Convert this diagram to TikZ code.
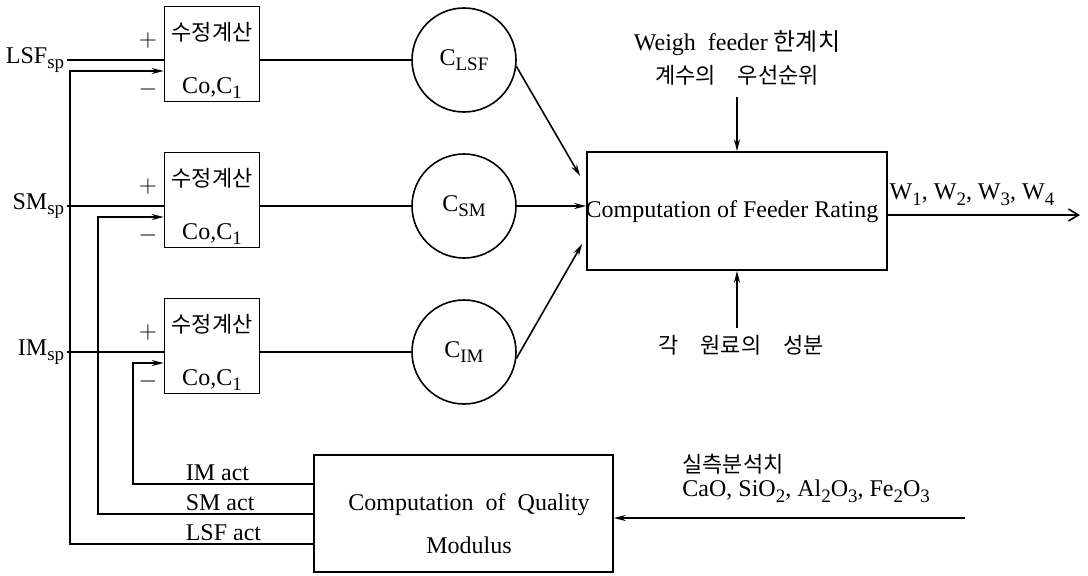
\documentclass[tikz,border=0pt]{standalone}
\usepackage{fontspec}
\setmainfont{Liberation Serif}
\newfontfamily\kr{Noto Sans CJK KR}
\usetikzlibrary{arrows.meta}
\newcommand{\lowsub}[1]{\raisebox{-.5ex}{\fontsize{9.5}{10}\selectfont #1}}

\begin{document}
\begin{tikzpicture}[x=.5pt,y=-.5pt,>={Stealth[length=6pt,width=3pt]},line width=.8pt,
  font=\fontsize{12}{14}\selectfont,
  corrbox/.style={draw,minimum width=47.5pt,minimum height=47.5pt,inner sep=0pt},
  ctrl/.style={draw,circle,minimum size=52pt,inner sep=0pt},
  kor/.style={font=\kr\fontsize{11}{13}\selectfont}]
  \useasboundingbox (0,0) rectangle (1088,575);

  % feeder rating and quality modulus blocks
  \node[draw,minimum width=150pt,minimum height=59pt] (fr) at (737,211) {};
  \node (frtxt) at (732,212) {Computation of Feeder Rating};
  \node[draw,minimum width=149.5pt,minimum height=58.5pt] (qm) at (463.5,513.5) {};
  \node (qmtop) at (469,505) {Computation\ \ of\ \ Quality};
  \node (qmbot) at (469,545) {Modulus};

  % three correction loops
  \foreach \nm/\yc/\lab/\bx/\ay in {lsf/54/LSF/70/544,sm/200/SM/98/514,im/346/IM/133/484}{
    \node[corrbox] (b\nm) at (212,\yc) {};
    \node[kor] (k\nm) at (212,\yc-22) {수정계산};
    \node (co\nm) at (212,\yc+34) {Co,C\lowsub{1}};
    \node (pl\nm) at (148,\yc-14) {$+$};
    \node (mi\nm) at (148,\yc+35) {$-$};
    \node[anchor=east,inner sep=1pt] (sp\nm) at (67,\yc+6) {\lab\lowsub{sp}};
    \draw (sp\nm.east) -- (sp\nm.east -| b\nm.west);
    \node[ctrl] (c\nm) at (464,\yc+6) {C\lowsub{\lab}};
    \draw (b\nm.east |- c\nm) -- (c\nm);
    \node[anchor=south west,inner sep=1pt] (act\nm) at (183,\ay) {\lab\ act};
    \draw[->] (qm.west |- 0,\ay) -| (\bx,\yc+17) -- (b\nm.west |- 0,\yc+17);
  }

  % into the feeder rating
  \draw[->] (clsf.-7) -- ([shift={(-6,25)}]fr.north west);
  \draw[->] (csm) -- (csm -| fr.west);
  \draw[->] (cim.-7) -- ([shift={(-4,-27)}]fr.south west);
  \node (wf) at (737,43) {Weigh\ \ feeder\ {\kr 한계치}};
  \node[kor] (pri) at (737,75) {계수의\quad 우선순위};
  \coordinate (topin) at (737,97);
  \draw[->] (topin) -- (topin |- fr.north);
  \node[kor] (raw) at (741,345) {각\quad 원료의\quad 성분};
  \coordinate (botin) at (737,328);
  \draw[->] (botin) -- (botin |- fr.south);

  % output
  \coordinate (wout) at (1080,215);
  \draw[-{Straight Barb[length=5pt,width=6pt]}] (wout -| fr.east) -- (wout);
  \node[anchor=south] (wlab) at (972,213) {W\lowsub{1}, W\lowsub{2}, W\lowsub{3}, W\lowsub{4}};

  % measured analysis
  \coordinate (labin) at (965,518);
  \draw[->] (labin) -- (labin -| qm.east);
  \node[kor,anchor=west] (meas) at (675,464) {실측분석치};
  \node[anchor=west] (oxide) at (675,491) {CaO, SiO\lowsub{2}, Al\lowsub{2}O\lowsub{3}, Fe\lowsub{2}O\lowsub{3}};
\end{tikzpicture}
\end{document}
